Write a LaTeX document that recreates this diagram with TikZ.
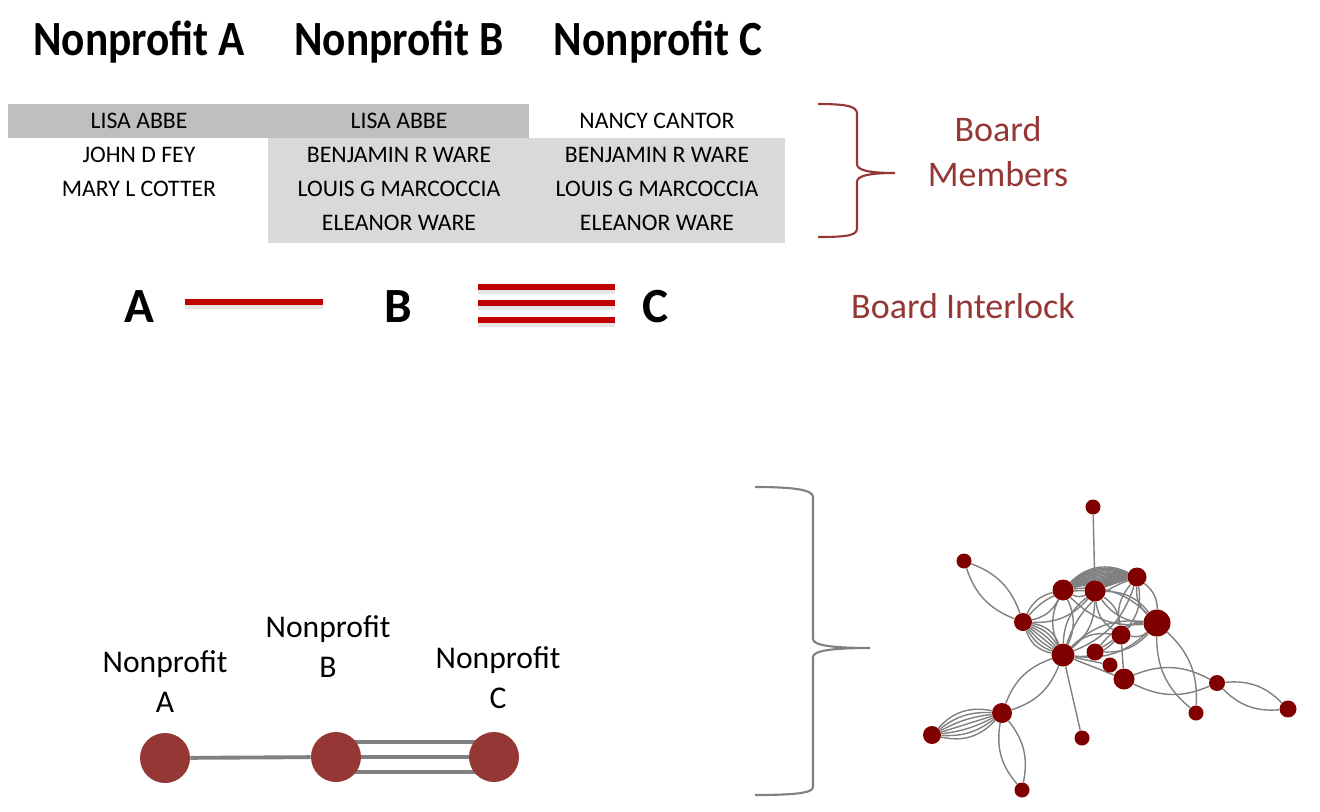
\documentclass[tikz,border=0pt]{standalone}
\usepackage{fontspec}
\setmainfont{Carlito}
\newfontfamily\titlefont[FakeStretch=0.88]{Carlito}
\usepackage{tikz}
\usetikzlibrary{backgrounds}
\definecolor{boardred}{RGB}{149, 55, 53}
\definecolor{linkred}{RGB}{192, 0, 0}
\definecolor{netred}{RGB}{128, 0, 0}
\definecolor{edgegray}{RGB}{128, 128, 128}
\definecolor{sharedgray}{RGB}{191, 191, 191}
\definecolor{overlapgray}{RGB}{217, 217, 217}
\tikzset{
  titletext/.style={font=\titlefont\fontsize{28}{32}\selectfont\bfseries, inner sep=0pt, anchor=base},
  nametext/.style={font=\fontsize{13.5}{16}\selectfont, inner sep=0pt, anchor=base},
  notetext/.style={font=\fontsize{20.5}{25.5}\selectfont, text=boardred, align=center, inner sep=0pt},
  orgletter/.style={font=\fontsize{28}{32}\selectfont\bfseries, inner sep=0pt, anchor=base},
  interlockline/.style={draw=linkred, line width=3.4pt},
  linkshadow/.style={draw=black!20, line width=3.6pt, opacity=0.5},
  orgnode/.style={circle, fill=boardred, minimum size=1cm, inner sep=0pt},
  orglabel/.style={font=\fontsize{18}{22.7}\selectfont, align=center, inner sep=0pt, anchor=south},
  orgedge/.style={draw=edgegray, line width=2.2pt},
  netnode/.style={circle, fill=netred, inner sep=0pt},
  netedge/.style={draw=edgegray, line width=0.8pt},
  bracegray/.style={draw=edgegray, line width=1.2pt},
  bracered/.style={draw=boardred, line width=1.2pt}
}

\begin{document}
\begin{tikzpicture}[x=0.02cm, y=-0.02cm]
  \useasboundingbox (0,0) rectangle (1320,812);

  % Header: one column per nonprofit
  \node[titletext] (titleA) at (139,55) {Nonprofit A};
  \node[titletext] (titleB) at (399,55) {Nonprofit B};
  \node[titletext] (titleC) at (658,55) {Nonprofit C};

  % Shaded cells mark the shared members
  \fill[sharedgray] (8,104) rectangle (529,138);
  \fill[overlapgray] (268,138) rectangle (785,243);

  % Board member lists
  \foreach \nm [count=\i] in {LISA ABBE, JOHN D FEY, MARY L COTTER}
    \node[nametext] (memA\i) at (139,94+34*\i) {\nm};
  \foreach \nm [count=\i] in {LISA ABBE, BENJAMIN R WARE, LOUIS G MARCOCCIA, ELEANOR WARE}
    \node[nametext] (memB\i) at (399,94+34*\i) {\nm};
  \foreach \nm [count=\i] in {NANCY CANTOR, BENJAMIN R WARE, LOUIS G MARCOCCIA, ELEANOR WARE}
    \node[nametext] (memC\i) at (657,94+34*\i) {\nm};

  % Brace and note for the member table
  \draw[bracered] (818,104) .. controls (850,104) and (857,107) .. (857,114) -- (857,164)
    .. controls (857,170) and (868,173) .. (895,173)
    .. controls (868,173) and (857,176) .. (857,182) -- (857,228)
    .. controls (857,235) and (850,237) .. (818,237);
  \node[notetext, anchor=south] (boardnote) at (998,187) {Board\\Members};

  % Row 2: Interlocks drawn as red bars
  \node[orgletter] (letA) at (139,322) {A};
  \node[orgletter] (letB) at (398,322) {B};
  \node[orgletter] (letC) at (656,322) {C};
  \coordinate (ab_left) at (185,302);
  \coordinate (ab_right) at (323,302);
  \draw[linkshadow] ([yshift=-2pt]ab_left) -- ([yshift=-2pt]ab_right);
  \draw[interlockline] (ab_left) -- (ab_right);
  \foreach \yy in {287,303,320} {
    \coordinate (bc_left) at (478,\yy);
    \coordinate (bc_right) at (615,\yy);
    \draw[linkshadow] ([yshift=-2pt]bc_left) -- ([yshift=-2pt]bc_right);
    \draw[interlockline] (bc_left) -- (bc_right);
  }
  \node[notetext, anchor=base] (locknote) at (963,318) {Board Interlock};

  % Row 3: The same interlocks as a small network
  \node[orgnode] (orgA) at (165,758) {};
  \node[orgnode] (orgB) at (336,757) {};
  \node[orgnode] (orgC) at (494,757) {};
  \node[orglabel] (lblA) at (165,713) {Nonprofit\\A};
  \node[orglabel] (lblB) at (328,678) {Nonprofit\\B};
  \node[orglabel] (lblC) at (498,709) {Nonprofit\\C};
  \begin{scope}[on background layer]
    \draw[orgedge] (orgA) -- (orgB);
    \foreach \s in {-15,0,15}
      \draw[orgedge] ([yshift=\s*0.567pt]orgB.center) -- ([yshift=\s*0.567pt]orgC.center);
  \end{scope}

  % Brace leading to the full interlock network
  \draw[bracegray] (755,487) .. controls (795,487) and (813,490) .. (813,497) -- (813,639)
    .. controls (813,645) and (830,648) .. (870,648)
    .. controls (830,648) and (813,651) .. (813,657) -- (813,787)
    .. controls (813,793) and (795,795) .. (755,795);

  % Full network: name/x/y/diameter
  \foreach \n/\x/\y/\d in {n1/1093/507/15, n2/964/561/15, n3/1063/590/21, n4/1095/591/21,
      n5/1137/577/19, n6/1157/623/27, n7/1023/622/18, n8/1121/635/19, n9/1063/655/23,
      n10/1095/652/17, n11/1110/665/15, n12/1124/679/21, n13/1217/683/16, n14/1196/713/15,
      n15/1288/709/17, n16/1002/713/20, n17/932/735/18, n18/1082/738/15, n19/1022/790/15}
    \node[netnode, minimum size=\d*0.02cm] (\n) at (\x,\y) {};

  \begin{scope}[on background layer]
    \foreach \a/\b in {n1/n4, n9/n18, n9/n11, n9/n12, n8/n12, n10/n8}
      \draw[netedge] (\a) -- (\b);
    \foreach \a/\b in {n2/n7, n7/n3, n3/n4, n3/n9, n4/n9, n3/n6, n4/n6, n9/n6, n9/n8,
        n8/n6, n5/n6, n5/n8, n4/n8, n10/n6, n5/n9, n9/n16, n16/n19, n12/n13, n13/n15,
        n6/n14, n7/n4} {
      \draw[netedge] (\a) to[bend left=25] (\b);
      \draw[netedge] (\a) to[bend right=25] (\b);
    }
    \foreach \k in {-30,-20,...,30} {
      \draw[netedge] (n16) to[bend left=\k] (n17);
      \draw[netedge] (n7) to[bend left=\k] (n9);
    }
    \foreach \k in {3,6,...,36} {
      \draw[netedge] (n3) to[bend left=\k] (n5);
      \draw[netedge] (n4) to[bend left=\k] (n5);
    }
  \end{scope}
\end{tikzpicture}
\end{document}
